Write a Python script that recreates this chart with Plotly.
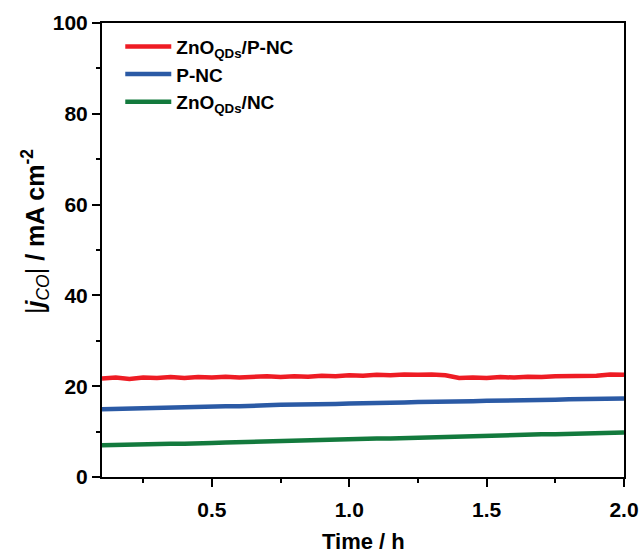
import plotly.graph_objects as go

time_h = [0.10, 0.15, 0.20, 0.25, 0.30, 0.35, 0.40, 0.45, 0.50, 0.55,
          0.60, 0.65, 0.70, 0.75, 0.80, 0.85, 0.90, 0.95, 1.00, 1.05,
          1.10, 1.15, 1.20, 1.25, 1.30, 1.35, 1.40, 1.45, 1.50, 1.55,
          1.60, 1.65, 1.70, 1.75, 1.80, 1.85, 1.90, 1.95, 2.00]

zno_pnc = [21.7, 21.9, 21.6, 21.9, 21.8, 22.0, 21.8, 22.0, 21.9, 22.1,
           21.9, 22.1, 22.2, 22.0, 22.2, 22.1, 22.3, 22.2, 22.4, 22.3,
           22.5, 22.4, 22.6, 22.5, 22.6, 22.4, 21.8, 21.9, 21.8, 22.0,
           21.9, 22.1, 22.0, 22.2, 22.2, 22.4, 22.3, 22.6, 22.5]

pnc = [14.9, 15.0, 15.0, 15.2, 15.2, 15.3, 15.3, 15.5, 15.5, 15.6,
       15.6, 15.8, 15.8, 15.9, 15.9, 16.0, 16.1, 16.1, 16.2, 16.2,
       16.3, 16.4, 16.4, 16.5, 16.5, 16.6, 16.7, 16.7, 16.8, 16.8,
       16.9, 16.9, 17.0, 17.0, 17.1, 17.1, 17.2, 17.2, 17.3]

zno_nc = [7.0, 7.1, 7.0, 7.2, 7.2, 7.3, 7.3, 7.5, 7.5, 7.6,
          7.7, 7.7, 7.9, 7.9, 8.0, 8.1, 8.2, 8.2, 8.3, 8.4,
          8.5, 8.5, 8.6, 8.7, 8.8, 8.8, 8.9, 9.0, 9.1, 9.1,
          9.2, 9.3, 9.4, 9.4, 9.5, 9.6, 9.7, 9.7, 9.8]

series = [
    ("ZnO<sub>QDs</sub>/P-NC", zno_pnc, "#ee1c24"),
    ("P-NC", pnc, "#2b5aa5"),
    ("ZnO<sub>QDs</sub>/NC", zno_nc, "#137a3d"),
]

x_title = "<b>Time / h</b>"
y_title = "|<i><b>j</b></i><sub><i>CO</i></sub>| <b>/ mA cm<sup>-2</sup></b>"

FONT = "Liberation Sans, Arial, sans-serif"

fig = go.Figure()
for name, vals, col in series:
    fig.add_trace(go.Scatter(x=time_h, y=vals, mode="lines", name=name,
                             line=dict(color=col, width=4.5)))

axis_common = dict(
    showline=True, linecolor="black", linewidth=2, mirror=True,
    ticks="outside", tickwidth=2, ticklen=8, tickcolor="black",
    showgrid=False, zeroline=False, automargin=False,
    tickfont=dict(family=FONT, size=21, color="black", weight="bold"),
)

fig.update_xaxes(range=[0.1, 2.0], tick0=0, dtick=0.5, tickformat=".1f",
                 ticklabelstandoff=5,
                 minor=dict(ticks="outside", ticklen=4, tickwidth=2, tickcolor="black",
                            tick0=0, dtick=0.25),
                 **axis_common)
fig.update_yaxes(range=[0, 100], tick0=0, dtick=20,
                 minor=dict(ticks="outside", ticklen=4, tickwidth=2, tickcolor="black",
                            tick0=0, dtick=10),
                 **axis_common)

fig.add_annotation(text=x_title, xref="paper", yref="paper",
                   x=0.5, y=-0.141, xanchor="center", yanchor="middle",
                   showarrow=False,
                   font=dict(family=FONT, size=22, color="black"))
fig.add_annotation(text=y_title, xref="paper", yref="paper",
                   x=-0.128, y=0.54, xanchor="center", yanchor="middle",
                   textangle=-90, showarrow=False,
                   font=dict(family=FONT, size=25, color="black"))

fig.update_layout(
    width=644, height=556,
    margin=dict(l=102, r=20, t=23, b=79),
    plot_bgcolor="white", paper_bgcolor="white",
    legend=dict(x=0.035, y=0.99, xanchor="left", yanchor="top",
                bgcolor="rgba(0,0,0,0)", tracegroupgap=0,
                font=dict(family=FONT, size=19, color="black", weight="bold"),
                itemwidth=46),
)

fig.write_html("out.html")
